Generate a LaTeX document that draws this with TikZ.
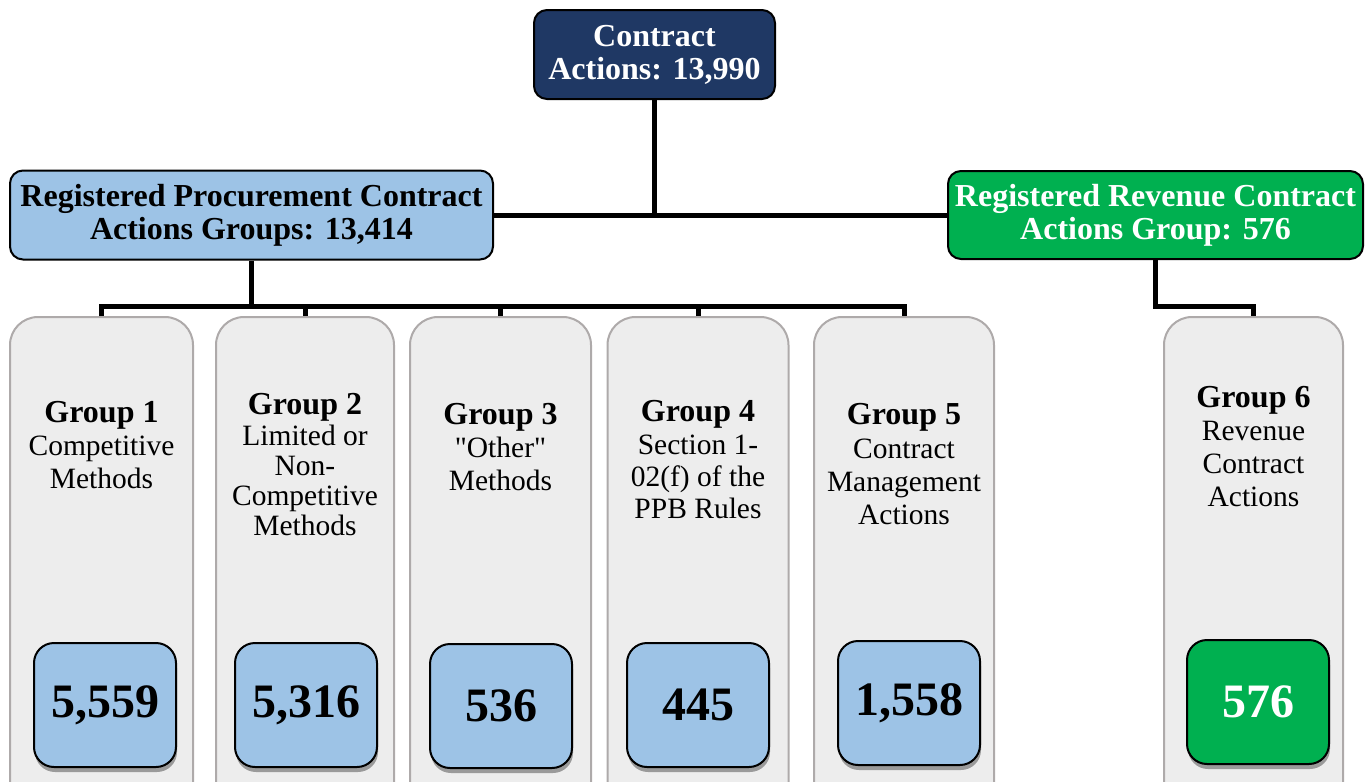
\documentclass[tikz,border=0pt]{standalone}
\usepackage{fontspec}
\setmainfont{Liberation Serif}
\usepackage{xcolor}
\usetikzlibrary{shadows}

\definecolor{navy}{HTML}{1F3864}
\definecolor{procblue}{HTML}{9DC3E6}
\definecolor{revgreen}{HTML}{00B050}
\definecolor{colfill}{HTML}{EDEDED}
\definecolor{colline}{HTML}{AEAAAA}

\tikzset{
  headbox/.style={draw=black, line width=2pt, rounded corners=13pt, align=center, inner sep=2pt,
    font=\fontsize{32}{33}\selectfont\bfseries},
  colbox/.style={draw=colline, fill=colfill, line width=2pt, rounded corners=28pt,
    minimum width=180pt, minimum height=520pt, anchor=north},
  grptext/.style={align=center, anchor=north, inner sep=0pt, font=\fontsize{29.5}{33}\selectfont},
  numbox/.style={draw=black, line width=2pt, rounded corners=20pt, fill=procblue,
    minimum width=142pt, minimum height=124pt, font=\fontsize{48}{48}\selectfont\bfseries,
    drop shadow={shadow xshift=1pt, shadow yshift=-5pt, opacity=.35, fill=black}},
  link/.style={line width=5pt}
}
\newcommand{\grp}[1]{{\fontsize{32}{35}\selectfont\bfseries Group #1}}

\begin{document}
\begin{tikzpicture}[x=1pt, y=-1pt]
\useasboundingbox (0,0) rectangle (1369,782);
\clip (0,0) rectangle (1369,782);

% top and second level
\node[headbox, fill=navy, text=white, minimum width=241pt, minimum height=89pt] (total) at (654.5,54.5) {Contract\\Actions: 13,990};
\node[headbox, fill=procblue, minimum width=483pt, minimum height=89pt] (proc) at (251.5,215) {Registered Procurement Contract\\Actions Groups: 13,414};
\node[headbox, fill=revgreen, text=white, minimum width=415pt, minimum height=88pt] (rev) at (1155.5,215) {Registered Revenue Contract\\Actions Group: 576};

% columns
\node[colbox, minimum width=183pt] (g1) at (101.5,316) {};
\node[colbox, minimum width=178pt] (g2) at (305,316) {};
\node[colbox, minimum width=181pt] (g3) at (500.5,316) {};
\node[colbox, minimum width=181pt] (g4) at (698,316) {};
\node[colbox, minimum width=180pt] (g5) at (904,316) {};
\node[colbox, minimum width=179pt] (g6) at (1253.5,316) {};

\node[grptext] (t1) at (101.5,401) {\grp{1}\\Competitive\\Methods};
\node[grptext] (t2) at (305,393) {\grp{2}\\[-2pt]Limited or\\[-3pt]Non-\\[-3pt]Competitive\\[-3pt]Methods};
\node[grptext] (t3) at (500.5,403) {\grp{3}\\\textquotedbl Other\textquotedbl\\Methods};
\node[grptext] (t4) at (698,400) {\grp{4}\\Section 1-\\[-1pt]02(f) of the\\[-1pt]PPB Rules};
\node[grptext] (t5) at (904,403) {\grp{5}\\[1pt]Contract\\Management\\Actions};
\node[grptext] (t6) at (1253.5,386) {\grp{6}\\Revenue\\Contract\\Actions};

\node[numbox] (n1) at (105,705) {5,559};
\node[numbox] (n2) at (306,705) {5,316};
\node[numbox] (n3) at (501,706) {536};
\node[numbox] (n4) at (698,705) {445};
\node[numbox] (n5) at (909,703) {1,558};
\node[numbox, fill=revgreen, text=white] (n6) at (1258,702) {576};

% connectors
\coordinate (pbus) at (251.5,306);
\draw[link] (total.south) -- (total.south |- proc.east);
\draw[link] (proc.east) -- (rev.west);
\draw[link] (proc.south) -- (pbus);
\draw[link] (g1.north) |- (pbus) -| (g5.north);
\draw[link] (g2.north) -- (g2.north |- pbus);
\draw[link] (g3.north) -- (g3.north |- pbus);
\draw[link] (g4.north) -- (g4.north |- pbus);
\draw[link] (rev.south) -- (rev.south |- pbus) -| (g6.north);
\end{tikzpicture}
\end{document}
